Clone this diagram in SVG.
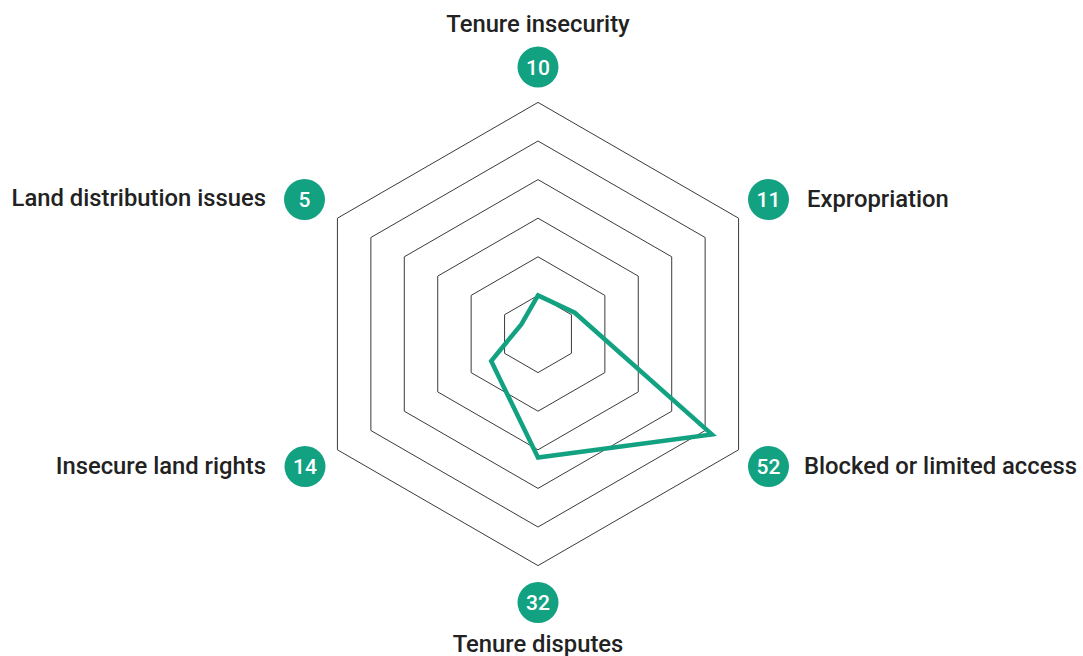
<svg xmlns="http://www.w3.org/2000/svg" width="1083" height="656" viewBox="0 0 1083 656">
<style>
.grid{fill:none;stroke:#3a3a3a;stroke-width:1}
.data{fill:none;stroke:#12a282;stroke-width:4.5;stroke-linejoin:miter}
.badge{fill:#12a282}
.num{font-family:Roboto,"Liberation Sans",sans-serif;font-size:21px;font-weight:500;fill:#ffffff;text-anchor:middle}
.lbl{font-family:Roboto,"Liberation Sans",sans-serif;font-size:23.8px;font-weight:500;fill:#222222}
</style>
<rect width="1083" height="656" fill="#ffffff"/>
<g id="grid">
<polygon class="grid" points="538,295.4 571.43,314.7 571.43,353.3 538,372.6 504.57,353.3 504.57,314.7"/>
<polygon class="grid" points="538,256.8 604.86,295.4 604.86,372.6 538,411.2 471.14,372.6 471.14,295.4"/>
<polygon class="grid" points="538,218.2 638.28,276.1 638.28,391.9 538,449.8 437.72,391.9 437.72,276.1"/>
<polygon class="grid" points="538,179.6 671.71,256.8 671.71,411.2 538,488.4 404.29,411.2 404.29,256.8"/>
<polygon class="grid" points="538,141 705.14,237.5 705.14,430.5 538,527 370.86,430.5 370.86,237.5"/>
<polygon class="grid" points="538,102.4 738.57,218.2 738.57,449.8 538,565.6 337.43,449.8 337.43,218.2"/>
</g>
<g id="connectors">
<polygon class="data" points="538,295.4 574.77,312.77 711.83,434.36 538,457.52 491.2,361.02 521.29,324.35"/>
</g>
<g id="tenure-insecurity">
<text class="lbl" x="538" y="31.5" text-anchor="middle">Tenure insecurity</text>
<circle class="badge" cx="538" cy="67" r="20.5"/>
<text class="num" x="538" y="74.5">10</text>
</g>
<g id="expropriation">
<circle class="badge" cx="768.5" cy="199.5" r="20.5"/>
<text class="num" x="768.5" y="207">11</text>
<text class="lbl" x="807" y="207">Expropriation</text>
</g>
<g id="blocked-access">
<circle class="badge" cx="768.5" cy="466.5" r="20.5"/>
<text class="num" x="768.5" y="474">52</text>
<text class="lbl" x="804" y="473.5">Blocked or limited access</text>
</g>
<g id="tenure-disputes">
<circle class="badge" cx="538" cy="602.5" r="20.5"/>
<text class="num" x="538" y="610">32</text>
<text class="lbl" x="538" y="652" text-anchor="middle">Tenure disputes</text>
</g>
<g id="insecure-land-rights">
<circle class="badge" cx="305" cy="466.5" r="20.5"/>
<text class="num" x="305" y="474">14</text>
<text class="lbl" x="266" y="473.5" text-anchor="end">Insecure land rights</text>
</g>
<g id="land-distribution">
<circle class="badge" cx="304.5" cy="199.5" r="20.5"/>
<text class="num" x="304.5" y="207">5</text>
<text class="lbl" x="266" y="206" text-anchor="end">Land distribution issues</text>
</g>
</svg>
